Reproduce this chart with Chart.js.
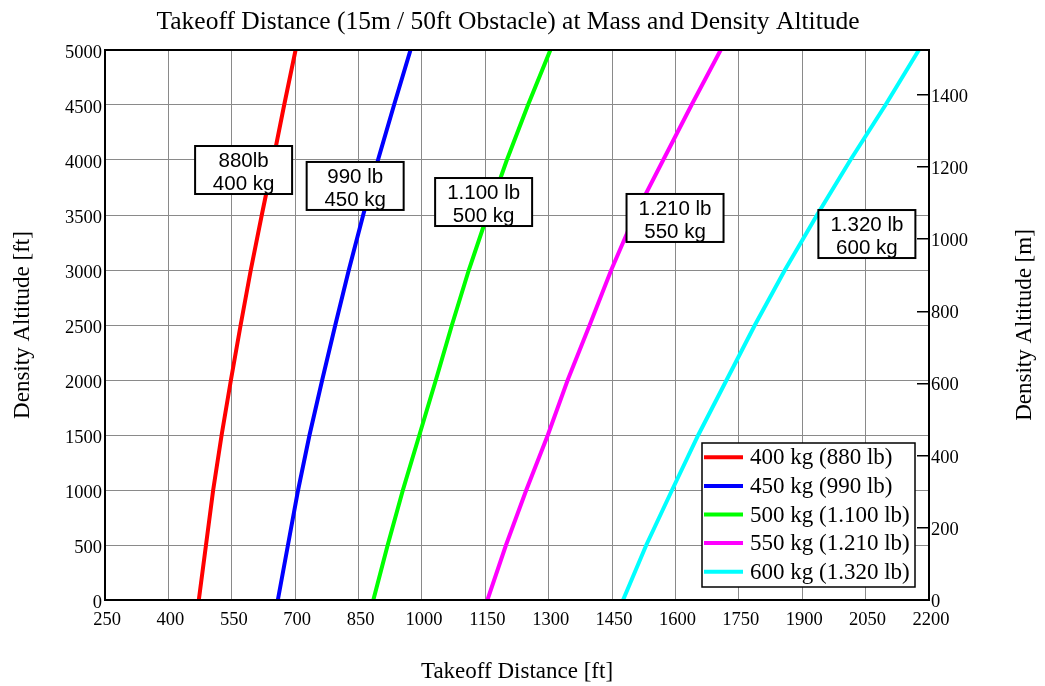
<!DOCTYPE html>
<html>
<head>
<meta charset="utf-8">
<script src="https://cdn.jsdelivr.net/npm/chart.js@4/dist/chart.umd.min.js"></script>
<style>
  body { margin: 0; background: #fff; }
  canvas { display: block; }
</style>
</head>
<body>
<canvas id="my-chart" width="1045" height="686"></canvas>
<script>
// density altitude [ft] at which every distance was read
const altitudeFt = [0, 500, 1000, 1500, 2000, 2500, 3000, 3500, 4000, 4500, 5000];

// takeoff distance [ft] over a 15 m / 50 ft obstacle, one list per mass
const dist400 = [472, 489, 506, 526, 548, 571, 595, 621, 648, 674, 701];
const dist450 = [659, 683, 707, 734, 764, 795, 827, 861, 896, 934, 973];
const dist500 = [885, 919, 955, 994, 1033, 1071, 1111, 1155, 1201, 1251, 1304];
const dist550 = [1155, 1199, 1247, 1298, 1345, 1397, 1448, 1504, 1571, 1638, 1707];
const dist600 = [1476, 1531, 1592, 1654, 1721, 1788, 1859, 1935, 2014, 2097, 2176];

const seriesNames = ['400 kg (880 lb)', '450 kg (990 lb)', '500 kg (1.100 lb)', '550 kg (1.210 lb)', '600 kg (1.320 lb)'];
const boxTexts = [['880lb', '400 kg'], ['990 lb', '450 kg'], ['1.100 lb', '500 kg'], ['1.210 lb', '550 kg'], ['1.320 lb', '600 kg']];

const xTicks = [250, 400, 550, 700, 850, 1000, 1150, 1300, 1450, 1600, 1750, 1900, 2050, 2200];
const yTicksFt = [0, 500, 1000, 1500, 2000, 2500, 3000, 3500, 4000, 4500, 5000];
const yTicksM = [0, 200, 400, 600, 800, 1000, 1200, 1400];

const colors = ['#ff0000', '#0000ff', '#00ff00', '#ff00ff', '#00ffff'];
const serif = 'Liberation Serif';
const sans = 'Liberation Sans';

function toPoints(dist) {
  return dist.map((d, i) => ({ x: d, y: altitudeFt[i] }));
}

const allDist = [dist400, dist450, dist500, dist550, dist600];
const datasets = allDist.map((d, i) => ({
  label: seriesNames[i],
  data: toPoints(d),
  borderColor: colors[i],
  backgroundColor: colors[i],
  borderWidth: 4,
  pointRadius: 0,
  tension: 0,
  yAxisID: 'y'
}));

const plainLabel = v => String(v);

// extra drawing: frame, mass boxes, legend, titles
const extras = {
  id: 'extras',
  afterDatasetsDraw(chart, args, opts) {
    const { ctx, chartArea: a, scales } = chart;
    ctx.save();

    // frame round the plot
    ctx.strokeStyle = '#000';
    ctx.lineWidth = 2;
    ctx.strokeRect(a.left, a.top, a.right - a.left, a.bottom - a.top);

    // mass boxes
    ctx.font = '20.5px "' + sans + '"';
    ctx.textAlign = 'center';
    ctx.textBaseline = 'alphabetic';
    boxTexts.forEach((lines, i) => {
      const cx = scales.x.getPixelForValue(opts.boxAt[i][0]);
      const cy = scales.y.getPixelForValue(opts.boxAt[i][1]);
      const w = 97, h = 48;
      const l = cx - w / 2, t = cy - h / 2;
      ctx.fillStyle = '#fff';
      ctx.fillRect(l, t, w, h);
      ctx.lineWidth = 2;
      ctx.strokeStyle = '#000';
      ctx.strokeRect(l, t, w, h);
      ctx.fillStyle = '#000';
      ctx.fillText(lines[0], cx, t + 21);
      ctx.fillText(lines[1], cx, t + 44);
    });

    // legend
    const lw = 213, lh = 144;
    const ll = a.right - 14 - lw, lt = a.bottom - 13 - lh;
    ctx.fillStyle = '#fff';
    ctx.fillRect(ll, lt, lw, lh);
    ctx.lineWidth = 1.5;
    ctx.strokeStyle = '#000';
    ctx.strokeRect(ll, lt, lw, lh);
    ctx.font = '23px "' + serif + '"';
    ctx.textAlign = 'left';
    ctx.textBaseline = 'middle';
    chart.data.datasets.forEach((ds, i) => {
      const ry = lt + 14.3 + i * 28.6;
      ctx.strokeStyle = ds.borderColor;
      ctx.lineWidth = 4;
      ctx.beginPath();
      ctx.moveTo(ll + 2, ry);
      ctx.lineTo(ll + 41, ry);
      ctx.stroke();
      ctx.fillStyle = '#000';
      ctx.fillText(ds.label, ll + 48, ry + 1);
    });

    // chart title
    ctx.font = '25.5px "' + serif + '"';
    ctx.textAlign = 'center';
    ctx.fillText('Takeoff Distance (15m / 50ft Obstacle) at Mass and Density Altitude', 508, 22);

    // right axis title, read from bottom to top like the left one
    ctx.font = '23px "' + serif + '"';
    ctx.translate(1025, (a.top + a.bottom) / 2);
    ctx.rotate(-Math.PI / 2);
    ctx.fillText('Density Altitude [m]', 0, 0);

    ctx.restore();
  }
};

const ctx = document.getElementById('my-chart').getContext('2d');
const chart = new Chart(ctx, {
  type: 'line',
  data: { datasets: datasets },
  options: {
    responsive: false,
    animation: false,
    layout: { padding: { top: 50, left: 0, right: 0, bottom: 0 } },
    plugins: {
      legend: { display: false },
      tooltip: { enabled: false },
      extras: {
        boxAt: [[578, 3909], [842, 3764], [1146, 3618], [1599, 3473], [2053, 3327]]
      }
    },
    scales: {
      x: {
        type: 'linear',
        min: 250,
        max: 2200,
        afterBuildTicks: s => { s.ticks = xTicks.map(v => ({ value: v })); },
        afterFit: s => { s.height = 86; },
        grid: { color: '#8a8a8a', lineWidth: 1, drawTicks: false },
        border: { display: false },
        ticks: { color: '#000', padding: 9, labelOffset: 2, callback: plainLabel, font: { family: serif, size: 18.5 } },
        title: {
          display: true,
          text: 'Takeoff Distance [ft]',
          color: '#000',
          font: { family: serif, size: 23 },
          padding: { top: 0, bottom: 0 }
        }
      },
      y: {
        type: 'linear',
        position: 'left',
        min: 0,
        max: 5000,
        afterBuildTicks: s => { s.ticks = yTicksFt.map(v => ({ value: v })); },
        afterFit: s => { s.width = 105; },
        grid: { color: '#8a8a8a', lineWidth: 1, drawTicks: false },
        border: { display: false },
        ticks: { color: '#000', padding: 3, labelOffset: 3, callback: plainLabel, font: { family: serif, size: 18.5 } },
        title: {
          display: true,
          text: 'Density Altitude [ft]',
          color: '#000',
          font: { family: serif, size: 23 },
          padding: { top: 9, bottom: 0 }
        }
      },
      y2: {
        type: 'linear',
        position: 'right',
        min: 0,
        max: 5000 * 0.3048,
        afterBuildTicks: s => { s.ticks = yTicksM.map(v => ({ value: v })); },
        afterFit: s => { s.width = 116; },
        grid: { drawOnChartArea: false, color: '#000', lineWidth: 1.5, tickLength: -12 },
        border: { display: false },
        ticks: { color: '#000', padding: 14, labelOffset: 2, callback: plainLabel, font: { family: serif, size: 18.5 } }
      }
    }
  },
  plugins: [extras]
});
</script>
</body>
</html>
